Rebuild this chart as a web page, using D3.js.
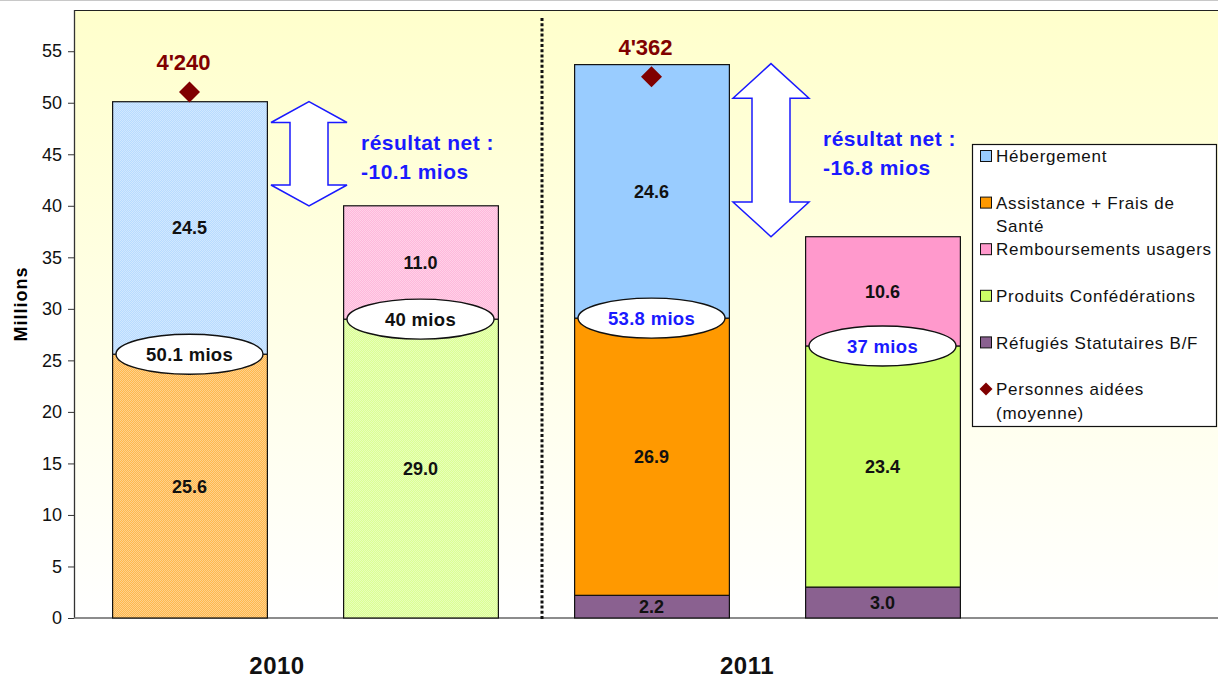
<!DOCTYPE html>
<html>
<head>
<meta charset="utf-8">
<script src="https://cdn.jsdelivr.net/npm/d3@7"></script>
<style>
  html, body { margin: 0; padding: 0; background: #ffffff; }
  svg { display: block; font-family: "Liberation Sans", Arial, sans-serif; }
</style>
</head>
<body>
<svg id="chart" width="1218" height="679"></svg>
<script>
// ---------------- DATA ----------------
const bars = ["Charges 2010", "Produits 2010", "Charges 2011", "Produits 2011"];
const barYear = ["2010", "2010", "2011", "2011"];
const years = ["2010", "2011"];

const seriesKeys = ["refugies", "assistance", "produitsConf", "hebergement", "remboursements"];

const refugies       = [0,    0,    2.2,  3.0];
const assistance     = [25.6, 0,    26.9, 0];
const produitsConf   = [0,    29.0, 0,    23.4];
const hebergement    = [24.5, 0,    24.6, 0];
const remboursements = [0,    11.0, 0,    10.6];

const totals = [50.1, 40, 53.8, 37];
const netResult = [-10.1, -16.8];
const personnes = [4240, null, 4362, null];

const yTicks = [0, 5, 10, 15, 20, 25, 30, 35, 40, 45, 50, 55];

// legend order (as in the reference)
const legendItems = [
  { key: "hebergement", lines: ["Hébergement"] },
  { key: "assistance", lines: ["Assistance + Frais de", "Santé"] },
  { key: "remboursements", lines: ["Remboursements usagers"] },
  { key: "produitsConf", lines: ["Produits Confédérations"] },
  { key: "refugies", lines: ["Réfugiés Statutaires B/F"] },
  { key: "personnes", lines: ["Personnes aidées", "(moyenne)"] }
];

// ---------------- STYLE ----------------
const colors = {
  hebergement: "#99CCFF",
  assistance: "#FF9900",
  remboursements: "#FF99CC",
  produitsConf: "#CCFF66",
  refugies: "#8A6190"
};
const diamondColor = "#800000";
const blue = "#1a1aff";
const font = "'Liberation Sans', Arial, sans-serif";

const W = 1218, H = 679;
const plot = { left: 74, top: 10, right: 1218, bottom: 618 };

const svg = d3.select("#chart");
const defs = svg.append("defs");

// background gradient
const grad = defs.append("linearGradient").attr("id", "bg").attr("x1", 0).attr("y1", 0).attr("x2", 0).attr("y2", 1);
grad.append("stop").attr("offset", "0%").attr("stop-color", "#FFFFCC");
grad.append("stop").attr("offset", "100%").attr("stop-color", "#FFFFFF");

// light dotted texture for 2010 bars (colour mixed with white)
seriesKeys.forEach(k => {
  const light = d3.interpolateRgb(colors[k], "#ffffff")(0.3);
  const lighter = d3.interpolateRgb(colors[k], "#ffffff")(0.55);
  const p = defs.append("pattern").attr("id", "pat-" + k)
    .attr("patternUnits", "userSpaceOnUse").attr("width", 2).attr("height", 2);
  p.append("rect").attr("width", 2).attr("height", 2).attr("fill", light);
  p.append("rect").attr("x", 0).attr("y", 0).attr("width", 1).attr("height", 1).attr("fill", lighter);
  p.append("rect").attr("x", 1).attr("y", 1).attr("width", 1).attr("height", 1).attr("fill", lighter);
});

// ---------------- SCALES ----------------
const x = d3.scaleBand().domain(bars).range([plot.left, 998]).paddingInner(0.33).paddingOuter(0.165);
const y = d3.scaleLinear().domain([0, 59]).range([plot.bottom, plot.top]);
const y2 = d3.scaleLinear().domain([0, 4900]).range([plot.bottom, plot.top]);

// chart border line at very top
svg.append("line").attr("x1", 0).attr("x2", W).attr("y1", 0.5).attr("y2", 0.5).attr("stroke", "#c8c8c8");

// plot background
svg.append("rect").attr("x", plot.left).attr("y", plot.top)
  .attr("width", plot.right - plot.left).attr("height", plot.bottom - plot.top)
  .attr("fill", "url(#bg)");
svg.append("line").attr("x1", plot.left).attr("x2", plot.right).attr("y1", plot.top + 0.5).attr("y2", plot.top + 0.5)
  .attr("stroke", "#222").attr("stroke-width", 1.2);

// y axis
const yAxis = d3.axisLeft(y).tickValues(yTicks).tickSize(6).tickSizeOuter(0).tickPadding(6);
const gy = svg.append("g").attr("transform", `translate(${plot.left},0)`).call(yAxis);
gy.select(".domain").attr("stroke", "#333").attr("stroke-width", 1.3).attr("d", `M0.5,${plot.top}V${plot.bottom}`);
gy.selectAll(".tick line").attr("stroke", "#333");
gy.selectAll(".tick text").attr("font-family", font).attr("font-size", 18).attr("fill", "#111");

// x axis baseline
svg.append("line").attr("x1", plot.left).attr("x2", plot.right).attr("y1", y(0)).attr("y2", y(0))
  .attr("stroke", "#666").attr("stroke-width", 1.3);

// y axis title
svg.append("text").attr("transform", `translate(27,${(y(0) + y(59)) / 2 - 10}) rotate(-90)`)
  .attr("text-anchor", "middle").attr("font-family", font).attr("font-size", 18)
  .attr("font-weight", "bold").attr("letter-spacing", 1).text("Millions");

// ---------------- STACKED BARS ----------------
const table = bars.map((b, i) => ({
  bar: b, year: barYear[i],
  refugies: refugies[i], assistance: assistance[i], produitsConf: produitsConf[i],
  hebergement: hebergement[i], remboursements: remboursements[i]
}));
const stacked = d3.stack().keys(seriesKeys)(table);

const gBars = svg.append("g");
stacked.forEach(layer => {
  const key = layer.key;
  layer.forEach(seg => {
    if (seg[1] - seg[0] <= 0) return;
    const d = seg.data;
    gBars.append("rect")
      .attr("x", x(d.bar) + 0.5).attr("y", y(seg[1]))
      .attr("width", x.bandwidth()).attr("height", y(seg[0]) - y(seg[1]))
      .attr("fill", d.year === "2010" ? `url(#pat-${key})` : colors[key])
      .attr("stroke", "#111").attr("stroke-width", 1.2);
  });
});
// segment labels
stacked.forEach(layer => {
  layer.forEach(seg => {
    const v = seg[1] - seg[0];
    if (v <= 0) return;
    const d = seg.data;
    gBars.append("text")
      .attr("x", x(d.bar) + x.bandwidth() / 2).attr("y", y((seg[0] + seg[1]) / 2))
      .attr("dy", "0.36em").attr("text-anchor", "middle")
      .attr("font-family", font).attr("font-size", 18).attr("font-weight", "bold").attr("fill", "#111")
      .text(d3.format(".1f")(v));
  });
});

// ---------------- TOTAL ELLIPSES ----------------
bars.forEach((b, i) => {
  const base = refugies[i] + assistance[i] + produitsConf[i];
  const cx = x(b) + x.bandwidth() / 2;
  const cy = y(base);
  svg.append("ellipse").attr("cx", cx).attr("cy", cy).attr("rx", x.bandwidth() * 0.475).attr("ry", 20)
    .attr("fill", "#ffffff").attr("stroke", "#111").attr("stroke-width", 1.4);
  svg.append("text").attr("x", cx).attr("y", cy).attr("dy", "0.36em").attr("text-anchor", "middle")
    .attr("font-family", font).attr("font-size", 18.5).attr("font-weight", "bold").attr("letter-spacing", 0.3)
    .attr("fill", barYear[i] === "2011" ? blue : "#111")
    .text(String(totals[i]) + " mios");
});

// ---------------- DOUBLE ARROWS + NET RESULT ----------------
years.forEach((yr, j) => {
  const bCharge = bars[j * 2], bProd = bars[j * 2 + 1];
  const gapMid = (x(bCharge) + x.bandwidth() + x(bProd)) / 2;
  const cx = gapMid + 4;
  const yTop = y(totals[j * 2]);
  const yBot = y(totals[j * 2 + 1]);
  const hw = 38, sw = 19, head = 0.2 * (yBot - yTop);
  const pts = [
    [cx, yTop], [cx + hw, yTop + head], [cx + sw, yTop + head], [cx + sw, yBot - head],
    [cx + hw, yBot - head], [cx, yBot], [cx - hw, yBot - head], [cx - sw, yBot - head],
    [cx - sw, yTop + head], [cx - hw, yTop + head]
  ];
  svg.append("path").attr("d", "M" + pts.map(p => p.join(",")).join("L") + "Z")
    .attr("fill", "#ffffff").attr("stroke", "#1a1aff").attr("stroke-width", 1.5);
  const mid = (yTop + yBot) / 2;
  const t = svg.append("text").attr("font-family", font).attr("font-size", 21).attr("font-weight", "bold")
    .attr("letter-spacing", 0.5).attr("fill", blue);
  t.append("tspan").attr("x", gapMid + 56).attr("y", mid - 4).text("résultat net :");
  t.append("tspan").attr("x", gapMid + 56).attr("y", mid + 25).text(netResult[j].toFixed(1) + " mios");
});

// ---------------- PERSONNES AIDÉES (diamonds) ----------------
const diamond = (cx, cy, r) => `M${cx},${cy - r}L${cx + r},${cy}L${cx},${cy + r}L${cx - r},${cy}Z`;
bars.forEach((b, i) => {
  if (personnes[i] == null) return;
  const cx = x(b) + x.bandwidth() / 2;
  const cy = y2(personnes[i]);
  svg.append("path").attr("d", diamond(cx, cy, 10.5)).attr("fill", diamondColor);
  svg.append("text").attr("x", cx - 6).attr("y", cy - 22).attr("text-anchor", "middle")
    .attr("font-family", font).attr("font-size", 22).attr("font-weight", "bold").attr("fill", diamondColor)
    .text(d3.format(",")(personnes[i]).replace(",", "'"));
});

// ---------------- SEPARATOR ----------------
const sepX = x(bars[2]) - (x.step() - x.bandwidth()) / 2 + 6;
svg.append("line").attr("x1", sepX).attr("x2", sepX).attr("y1", 18).attr("y2", y(0) + 3)
  .attr("stroke", "#111").attr("stroke-width", 3).attr("stroke-dasharray", "3,2.2");

// ---------------- YEAR LABELS ----------------
years.forEach((yr, j) => {
  const c = (x(bars[j * 2]) + x(bars[j * 2 + 1]) + x.bandwidth()) / 2 - 20 + j * 8 - 8;
  svg.append("text").attr("x", c).attr("y", 674).attr("text-anchor", "middle")
    .attr("font-family", font).attr("font-size", 24).attr("font-weight", "bold").attr("fill", "#111")
    .attr("letter-spacing", 0.5)
    .text(yr);
});

// ---------------- LEGEND ----------------
const lg = svg.append("g");
lg.append("rect").attr("x", 972.5).attr("y", 144.5).attr("width", 244).attr("height", 282)
  .attr("fill", "#ffffff").attr("stroke", "#111").attr("stroke-width", 1.2);
legendItems.forEach((it, i) => {
  const cy = 156 + i * 46.6;
  if (it.key === "personnes") {
    lg.append("path").attr("d", diamond(986, cy, 6.5)).attr("fill", diamondColor);
  } else {
    lg.append("rect").attr("x", 980.5).attr("y", cy - 5.5).attr("width", 11).attr("height", 11)
      .attr("fill", colors[it.key]).attr("stroke", "#111").attr("stroke-width", 1);
  }
  it.lines.forEach((ln, k) => {
    lg.append("text").attr("x", 996).attr("y", cy + k * 23.5).attr("dy", "0.36em")
      .attr("font-family", font).attr("font-size", 17).attr("letter-spacing", 0.75).attr("fill", "#111").text(ln);
  });
});
</script>
</body>
</html>
